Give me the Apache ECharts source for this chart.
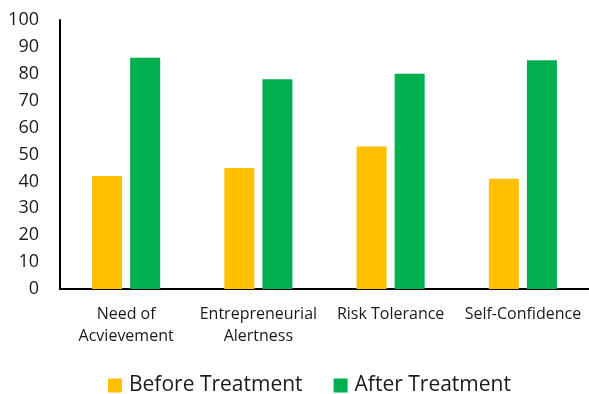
<!DOCTYPE html>
<html>
<head>
<meta charset="utf-8">
<script src="https://cdn.jsdelivr.net/npm/echarts@6/dist/echarts.min.js"></script>
<style>html,body{margin:0;padding:0;background:#fff;}#c{width:589px;height:394px;}</style>
</head>
<body>
<div id="c"></div>
<script>
const categories = ['Need of\nAcvievement', 'Entrepreneurial\nAlertness', 'Risk Tolerance', 'Self-Confidence'];
const beforeTreatment = [42, 45, 53, 41];
const afterTreatment = [86, 78, 80, 85];
const seriesNames = ['Before Treatment', 'After Treatment'];

const chart = echarts.init(document.getElementById('c'), null, {renderer: 'canvas'});
const font = '"Open Sans", sans-serif';
chart.setOption({
  animation: false,
  grid: {left: 60, right: 0, top: 20, bottom: 105, containLabel: false},
  legend: {
    data: seriesNames,
    left: 108, top: 375, padding: 0,
    itemWidth: 14, itemHeight: 14, itemGap: 31,
    icon: 'rect',
    textStyle: {fontFamily: font, fontSize: 21, lineHeight: 20, color: '#1a1a1a', padding: [0, 0, 0, 2]}
  },
  xAxis: {
    type: 'category',
    data: categories,
    axisLine: {lineStyle: {color: '#000', width: 2}},
    axisTick: {show: false},
    axisLabel: {fontFamily: font, fontSize: 16, color: '#1a1a1a', lineHeight: 22, margin: 14, interval: 0}
  },
  yAxis: {
    type: 'value', min: 0, max: 100, interval: 10,
    axisLine: {show: true, lineStyle: {color: '#000', width: 2}},
    axisTick: {show: false},
    splitLine: {show: false},
    axisLabel: {fontFamily: font, fontSize: 18, color: '#1a1a1a', margin: 21}
  },
  series: [
    {name: seriesNames[0], type: 'bar', data: beforeTreatment, barWidth: 30, barGap: '27%', itemStyle: {color: '#FFC000'}},
    {name: seriesNames[1], type: 'bar', data: afterTreatment, barWidth: 30, barGap: '27%', itemStyle: {color: '#00B050'}}
  ]
});
</script>
</body>
</html>
